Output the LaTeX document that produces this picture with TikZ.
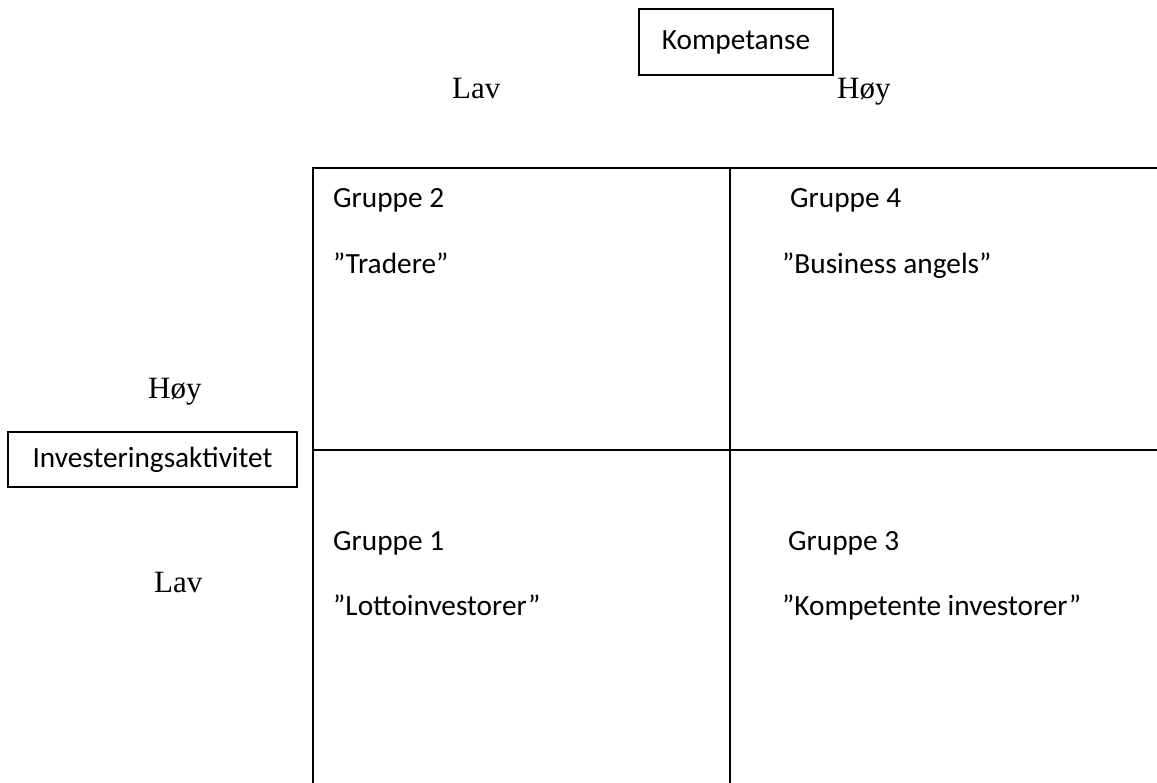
\documentclass[tikz,border=0pt]{standalone}
\usepackage{fontspec}
\setmainfont{Carlito}
\newfontfamily\serifaxis{Liberation Serif}
\begin{document}
\begin{tikzpicture}[x=1pt,y=-1pt,
  grid/.style={line width=1.6pt, line cap=rect},
  labelbox/.style={draw, line width=1.6pt, inner sep=0pt, font=\fontsize{29.3}{34}\selectfont},
  celltext/.style={anchor=base west, inner sep=0pt, font=\fontsize{29.3}{34}\selectfont},
  axistext/.style={anchor=base west, inner sep=0pt, font=\serifaxis\fontsize{31}{36}\selectfont}]
\useasboundingbox (0,0) rectangle (1157,783);

% axis title boxes
\node[labelbox, minimum width=194pt, minimum height=66pt] (komp) at (736,42) {Kompetanse};
\node[labelbox, minimum width=289pt, minimum height=55pt] (inv) at (152.5,459.5) {Investeringsaktivitet};

% axis levels
\node[axistext] (kompLav) at (452,99) {Lav};
\node[axistext] (kompHoy) at (837,99) {Høy};
\node[axistext] (invHoy) at (148,399) {Høy};
\node[axistext] (invLav) at (154,592) {Lav};

% the 2x2 grid
\coordinate (tl) at (313,168);
\coordinate (tr) at (1160,168);
\coordinate (bl) at (313,786);
\coordinate (mt) at (730,168);
\coordinate (mb) at (730,786);
\coordinate (ml) at (313,450);
\coordinate (mr) at (1160,450);
\draw[grid] (bl) -- (tl) -- (tr);
\draw[grid] (mt) -- (mb);
\draw[grid] (ml) -- (mr);

% cell contents
\node[celltext] (g2) at (333,208) {Gruppe 2};
\node[celltext] (g2n) at (333,274) {”Tradere”};
\node[celltext] (g4) at (790,208) {Gruppe 4};
\node[celltext] (g4n) at (782,274) {”Business angels”};
\node[celltext] (g1) at (333,550) {Gruppe 1};
\node[celltext] (g1n) at (333,615) {”Lottoinvestorer”};
\node[celltext] (g3) at (788,550) {Gruppe 3};
\node[celltext] (g3n) at (782,615) {”Kompetente investorer”};
\end{tikzpicture}
\end{document}
